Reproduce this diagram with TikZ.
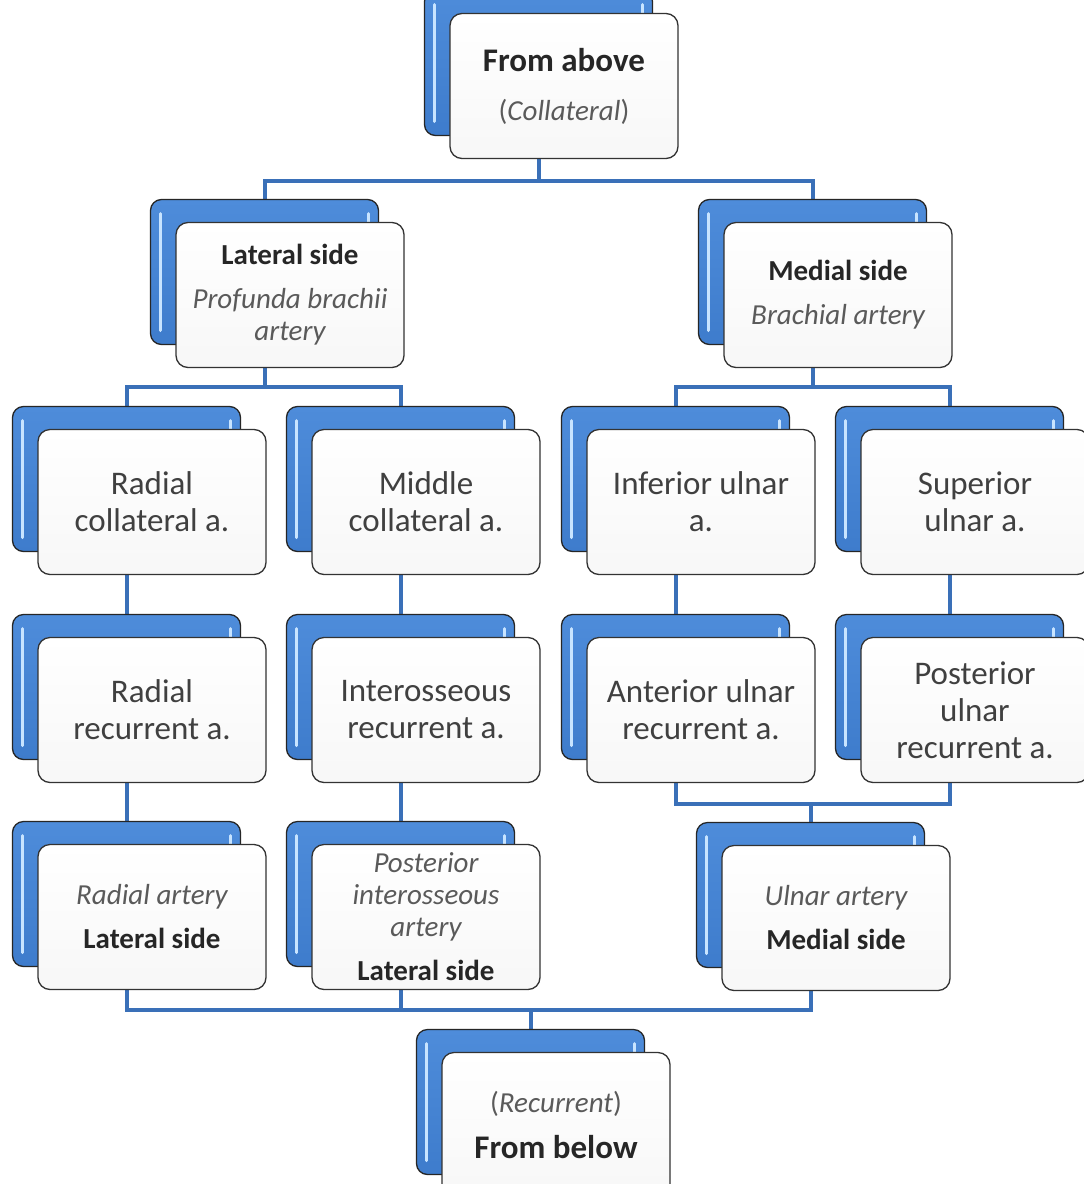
\documentclass[tikz,border=0pt]{standalone}
\usepackage{fontspec}
\setmainfont{Carlito}
\usetikzlibrary{backgrounds}
\definecolor{cardblue}{RGB}{62,124,204}
\definecolor{cardbluetop}{RGB}{78,140,218}
\definecolor{stripeblue}{RGB}{200,228,255}
\definecolor{linkblue}{RGB}{58,112,184}
\definecolor{textgray}{RGB}{64,64,64}
\definecolor{itgray}{RGB}{90,90,90}
\newcommand{\sizeA}{\fontsize{33}{37}\selectfont}
\newcommand{\sizeB}{\fontsize{29}{32}\selectfont}
\newcommand{\hd}[1]{{\bfseries\color{black!85}#1}}
\newcommand{\itx}[1]{{\itshape\color{itgray}#1}}
% one card: blue card behind, white card in front
\newcommand{\artbox}[5][\sizeA]{%
  \node[backcard] (#2-b) at (#3-25.5,#4-23) {};
  \node[frontcard, font=#1] (#2) at (#3,#4) {#5};}

\begin{document}
\begin{tikzpicture}[
  x=1pt, y=-1pt,
  backcard/.style={draw=black!85, line width=1.3pt, rounded corners=11pt,
    top color=cardbluetop, bottom color=cardblue, inner sep=0pt,
    minimum width=228pt, minimum height=145pt,
    path picture={
      \draw[stripe] ([shift={(10pt,-14pt)}]path picture bounding box.north west)
        -- ([shift={(10pt,14pt)}]path picture bounding box.south west);
      \draw[stripe] ([shift={(-10pt,-14pt)}]path picture bounding box.north east)
        -- ([shift={(-10pt,14pt)}]path picture bounding box.south east);}},
  stripe/.style={stripeblue, line width=3pt, line cap=round},
  frontcard/.style={draw=black!80, line width=1.3pt, rounded corners=12pt,
    top color=white, bottom color=black!3, inner sep=4pt, align=center,
    text=textgray, minimum width=228pt, minimum height=145pt},
  link/.style={draw=linkblue, line width=4pt}]
\useasboundingbox (0,0) rectangle (1084,1184);
\clip (0,0) rectangle (1084,1184);

\artbox[\sizeB]{above}{564}{86}
  {{\sizeA\hd{From above}}\\[17pt]{\color{itgray}(\textit{Collateral})}}
\artbox[\sizeB]{lateral}{290}{295}
  {\hd{Lateral side}\\[12pt]\itx{Profunda brachii}\\\itx{artery}}
\artbox[\sizeB]{medial}{838}{295}
  {\hd{Medial side}\\[12pt]\itx{Brachial artery}}

\artbox{radcoll}{152}{502}{Radial\\collateral a.}
\artbox{midcoll}{426}{502}{Middle\\collateral a.}
\artbox{infuln}{701}{502}{Inferior ulnar\\a.}
\artbox{supuln}{975}{502}{Superior\\ulnar a.}

\artbox{radrec}{152}{710}{Radial\\recurrent a.}
\artbox{intrec}{426}{710}{Interosseous\\recurrent a.}
\artbox{antrec}{701}{710}{Anterior ulnar\\recurrent a.}
\artbox{postrec}{975}{710}{Posterior\\ulnar\\recurrent a.}

\artbox[\sizeB]{radart}{152}{917}
  {\itx{Radial artery}\\[12pt]\hd{Lateral side}}
\artbox[\sizeB]{postint}{426}{917}
  {\itx{Posterior}\\\itx{interosseous}\\\itx{artery}\\[12pt]\hd{Lateral side}}
\artbox[\sizeB]{ulnart}{836}{918}
  {\itx{Ulnar artery}\\[12pt]\hd{Medial side}}

\artbox[\sizeB]{below}{556}{1125}
  {{\color{itgray}(\textit{Recurrent})}\\[14pt]{\sizeA\hd{From below}}}

\begin{pgfonlayer}{background}
\fill[white] (0,0) rectangle (1084,1184);
\draw[link] (above-b.south) -- ++(0,45) -| (lateral-b.north);
\draw[link] (above-b.south) -- ++(0,45) -| (medial-b.north);
\draw[link] (lateral-b.south) -- ++(0,42) -| (radcoll-b.north);
\draw[link] (lateral-b.south) -- ++(0,42) -| (midcoll-b.north);
\draw[link] (medial-b.south) -- ++(0,42) -| (infuln-b.north);
\draw[link] (medial-b.south) -- ++(0,42) -| (supuln-b.north);
\draw[link] (radcoll-b.south) -- (radrec-b.north);
\draw[link] (midcoll-b.south) -- (intrec-b.north);
\draw[link] (infuln-b.south) -- (antrec-b.north);
\draw[link] (supuln-b.south) -- (postrec-b.north);
\draw[link] (radrec-b.south) -- (radart-b.north);
\draw[link] (intrec-b.south) -- (postint-b.north);
\draw[link] (antrec-b.south) -- ++(0,44) coordinate (m1) -| (postrec-b.south);
\draw[link] (ulnart-b.north) -- (ulnart-b.north |- m1);
\draw[link] (radart-b.south) -- ++(0,43) coordinate (m2) -| (ulnart-b.south);
\draw[link] (postint-b.south) -- (postint-b.south |- m2);
\draw[link] (below-b.north) -- (below-b.north |- m2);
\end{pgfonlayer}
\end{tikzpicture}
\end{document}
